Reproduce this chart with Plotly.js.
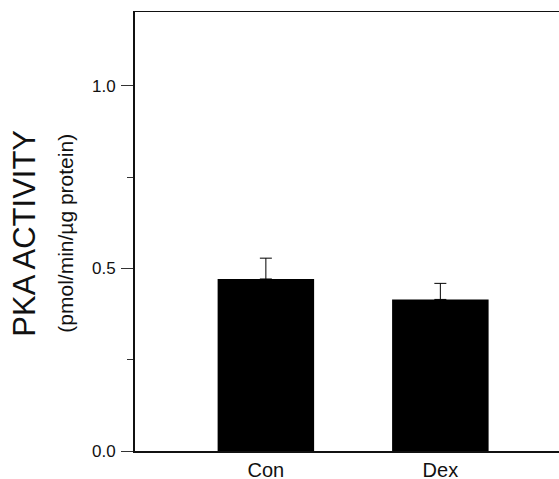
<!DOCTYPE html>
<html>
<head>
<meta charset="utf-8">
<script src="https://cdn.plot.ly/plotly-3.0.1.min.js"></script>
<style>html,body{margin:0;padding:0;background:#fff;}#chart{width:559px;height:479px;}</style>
</head>
<body>
<div id="chart"></div>
<script>
var categories = ["Con", "Dex"];
var values = [0.471, 0.415];
var errorsUp = [0.057, 0.044];
var yTickVals = [0.0, 0.5, 1.0];
var yTickText = ["0.0", "0.5", "1.0"];

var trace = {
  type: "bar",
  x: categories,
  y: values,
  width: 0.553,
  marker: {color: "#000000", line: {width: 0}},
  error_y: {type: "data", array: errorsUp, arrayminus: [0, 0], symmetric: false,
            color: "#000000", thickness: 1, width: 6},
  hoverinfo: "none"
};

var layout = {
  width: 559, height: 479,
  margin: {l: 135, r: 0, t: 12, b: 28},
  paper_bgcolor: "#ffffff", plot_bgcolor: "#ffffff",
  showlegend: false,
  font: {family: "Liberation Sans, Arial, sans-serif", color: "#111"},
  xaxis: {
    type: "category",
    range: [-0.75, 1.68],
    showline: true, linecolor: "#111", linewidth: 1.5, mirror: true,
    ticks: "", showgrid: false, zeroline: false,
    tickfont: {size: 20, color: "#111"},
    ticklabelstandoff: 0
  },
  yaxis: {
    range: [0, 1.202],
    showline: true, linecolor: "#111", linewidth: 2,
    showgrid: false, zeroline: false,
    tickmode: "array", tickvals: yTickVals, ticktext: yTickText,
    ticks: "outside", ticklen: 12, tickwidth: 1, tickcolor: "#333",
    ticklabelstandoff: 2,
    tickfont: {size: 17, color: "#111"},
    minor: {dtick: 0.25, tick0: 0, ticks: "outside", ticklen: 6, tickwidth: 1, tickcolor: "#333", showgrid: false}
  },
  annotations: [
    {text: "PKA ACTIVITY", xref: "paper", yref: "paper", x: 0, y: 0.495,
     xanchor: "center", yanchor: "middle", xshift: -110, textangle: -90,
     showarrow: false, font: {size: 31, color: "#111", family: "Liberation Sans, Arial, sans-serif"}},
    {text: "(pmol/min/µg protein)", xref: "paper", yref: "paper", x: 0, y: 0.495,
     xanchor: "center", yanchor: "middle", xshift: -69, textangle: -90,
     showarrow: false, font: {size: 21, color: "#111", family: "Liberation Sans, Arial, sans-serif"}}
  ]
};

Plotly.newPlot("chart", [trace], layout, {staticPlot: true, displayModeBar: false});
</script>
</body>
</html>
